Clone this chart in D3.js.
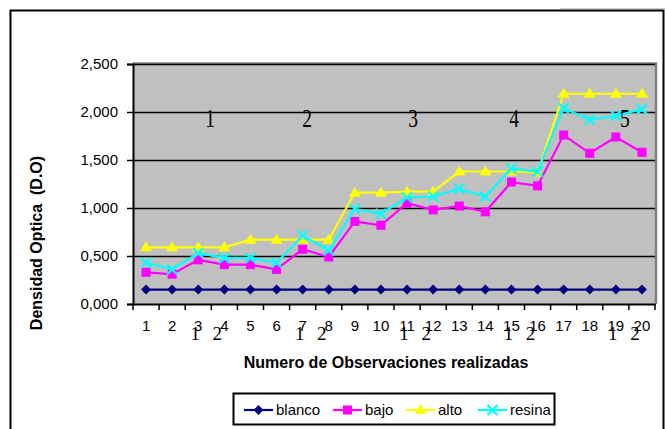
<!DOCTYPE html>
<html>
<head>
<meta charset="utf-8">
<script src="https://cdn.jsdelivr.net/npm/d3@7"></script>
<style>
  html, body { margin: 0; padding: 0; background: #fff; }
  svg { display: block; font-family: Arial, "Liberation Sans", sans-serif; }
</style>
</head>
<body>
<script>
// Observations 1..20
const observaciones = d3.range(1, 21).map(String);

// Optical density per series
const blanco = [0.15,0.15,0.15,0.15,0.15,0.15,0.15,0.15,0.15,0.15,0.15,0.15,0.15,0.15,0.15,0.15,0.15,0.15,0.15,0.15];
const bajo   = [0.33,0.31,0.46,0.41,0.41,0.36,0.57,0.49,0.86,0.82,1.05,0.98,1.02,0.96,1.27,1.23,1.76,1.57,1.74,1.58];
const alto   = [0.59,0.59,0.59,0.59,0.67,0.67,0.67,0.67,1.16,1.16,1.17,1.17,1.38,1.38,1.38,1.37,2.19,2.19,2.19,2.19];
const resina = [0.43,0.36,0.53,0.48,0.48,0.43,0.71,0.56,0.99,0.94,1.11,1.12,1.20,1.12,1.41,1.38,2.04,1.92,1.96,2.03];

const seriesNames  = ["blanco", "bajo", "alto", "resina"];
const seriesColors = ["#000080", "#FF00FF", "#FFFF00", "#00FFFF"];
const seriesShapes = ["diamond", "square", "triangle", "cross"];

const yTicks = [0, 0.5, 1.0, 1.5, 2.0, 2.5];

// Group numbers written over the plot, and the pair of sub-numbers
// written under the last two observations of each group
const groupLabels = ["1", "2", "3", "4", "5"];
const subLabels   = ["1", "2"];
const groupEnds   = ["4", "8", "12", "16", "20"];

// layout of the free text (in category widths from the plot's left edge)
const groupOffsets = [2.95, 6.67, 10.73, 14.6, 18.85];

const W = 665, H = 429;
const svg = d3.select("body").append("svg").attr("width", W).attr("height", H);

// outer chart frame (open at the bottom)
svg.append("line").attr("x1", 560).attr("x2", 665).attr("y1", 8.5).attr("y2", 8.5)
  .attr("stroke", "#c8c8c8").attr("stroke-width", 1);
svg.append("path")
  .attr("d", "M10.5,429 L10.5,10.5 L663.5,10.5 L663.5,429")
  .attr("fill", "none").attr("stroke", "#000").attr("stroke-width", 2);

const plot = { left: 133, right: 655, top: 64, bottom: 304 };

const x = d3.scaleBand().domain(observaciones).range([plot.left, plot.right]);
const y = d3.scaleLinear().domain([0, 2.5]).range([plot.bottom, plot.top]);
const cx = c => x(c) + x.bandwidth() / 2;

// plot background
svg.append("rect")
  .attr("x", plot.left).attr("y", plot.top)
  .attr("width", plot.right - plot.left).attr("height", plot.bottom - plot.top)
  .attr("fill", "#C0C0C0");
// grey right/top edge of the plot area
svg.append("path")
  .attr("d", `M${plot.left},${plot.top - 0.5} L${plot.right + 1},${plot.top - 0.5} L${plot.right + 1},${plot.bottom}`)
  .attr("fill", "none").attr("stroke", "#808080").attr("stroke-width", 2.5);

// horizontal gridlines
svg.append("g").selectAll("line").data(yTicks.slice(1)).join("line")
  .attr("x1", plot.left).attr("x2", plot.right)
  .attr("y1", d => Math.round(y(d)) + 0.5).attr("y2", d => Math.round(y(d)) + 0.5)
  .attr("stroke", "#000").attr("stroke-width", 1.5);

// y axis, decimal comma: 2,500
const yFmt = d => d3.format(".3f")(d).replace(".", ",");
const yAxis = svg.append("g")
  .attr("transform", `translate(${plot.left},0)`)
  .call(d3.axisLeft(y).tickValues(yTicks).tickSize(6).tickPadding(9).tickFormat(yFmt));
yAxis.attr("font-family", null).attr("font-size", null);
yAxis.select(".domain").attr("stroke", "#000").attr("stroke-width", 2);
yAxis.selectAll(".tick line").attr("stroke", "#000").attr("stroke-width", 1.5);
yAxis.selectAll(".tick text").attr("font-size", 15).attr("fill", "#000");

// x axis with ticks on category boundaries
const xAxis = svg.append("g")
  .attr("transform", `translate(0,${plot.bottom})`)
  .call(d3.axisBottom(x).tickSize(0).tickPadding(16));
xAxis.attr("font-family", null).attr("font-size", null);
xAxis.select(".domain").attr("stroke", "#000").attr("stroke-width", 2);
xAxis.selectAll(".tick text").attr("font-size", 15).attr("fill", "#000");
svg.append("g").selectAll("line")
  .data(d3.range(0, observaciones.length + 1)).join("line")
  .attr("x1", i => plot.left + i * x.step()).attr("x2", i => plot.left + i * x.step())
  .attr("y1", plot.bottom).attr("y2", plot.bottom + 6)
  .attr("stroke", "#000").attr("stroke-width", 1.5);

// series lines and markers
const values = [blanco, bajo, alto, resina];
const line = d3.line().x((d, i) => cx(observaciones[i])).y(d => y(d));

function marker(g, shape, color) {
  if (shape === "diamond") {
    g.append("path").attr("d", "M0,-5 L5,0 L0,5 L-5,0 Z").attr("fill", color);
  } else if (shape === "square") {
    g.append("rect").attr("x", -4.5).attr("y", -4.5).attr("width", 9).attr("height", 9).attr("fill", color);
  } else if (shape === "triangle") {
    g.append("path").attr("d", "M0,-6 L6,4 L-6,4 Z").attr("fill", color);
  } else {
    g.append("path").attr("d", "M-5,-5 L5,5 M5,-5 L-5,5").attr("stroke", color).attr("stroke-width", 2.2).attr("fill", "none");
  }
}

values.forEach((vals, s) => {
  svg.append("path").datum(vals)
    .attr("d", line).attr("fill", "none")
    .attr("stroke", seriesColors[s]).attr("stroke-width", 2.2);
  vals.forEach((v, i) => {
    const g = svg.append("g").attr("transform", `translate(${cx(observaciones[i])},${y(v)})`);
    marker(g, seriesShapes[s], seriesColors[s]);
  });
});

const serif = "'Liberation Serif', 'Times New Roman', 'DejaVu Serif', serif";

// group numbers over the plot
svg.append("g").selectAll("g").data(groupLabels).join("g")
  .attr("transform", (d, i) => `translate(${plot.left + groupOffsets[i] * x.step()},127) scale(0.75,1)`)
  .append("text")
  .attr("text-anchor", "middle")
  .style("font-family", serif)
  .attr("font-size", 26)
  .attr("fill", "#000")
  .text(d => d);

// sub-numbers under the last two observations of each group
groupEnds.forEach(end => {
  const second = String(+end);
  const first = String(+end - 1);
  [[first, subLabels[0], -3], [second, subLabels[1], -7]].forEach(([cat, t, dx]) => {
    svg.append("text")
      .attr("x", cx(cat) + dx)
      .attr("y", 340)
      .attr("text-anchor", "middle")
      .style("font-family", serif)
      .attr("font-size", 19)
      .attr("fill", "#000")
      .text(t);
  });
});

// axis titles
svg.append("text")
  .attr("x", (plot.left + plot.right) / 2 - 8).attr("y", 368)
  .attr("text-anchor", "middle").attr("font-weight", "bold").attr("font-size", 16)
  .attr("fill", "#000")
  .text("Numero de Observaciones realizadas");
svg.append("text")
  .attr("transform", "translate(42,243) rotate(-90)")
  .attr("text-anchor", "middle").attr("font-weight", "bold").attr("font-size", 16)
  .attr("fill", "#000")
  .attr("xml:space", "preserve")
  .style("white-space", "pre")
  .text("Densidad Optica  (D.O)");

// legend
const legend = svg.append("g");
legend.append("rect").attr("x", 233.5).attr("y", 393.5).attr("width", 321).attr("height", 31)
  .attr("fill", "#fff").attr("stroke", "#000").attr("stroke-width", 2);
const legendX = [244, 333, 406, 478];
seriesNames.forEach((name, s) => {
  const g = legend.append("g").attr("transform", `translate(${legendX[s]},410)`);
  g.append("line").attr("x1", 0).attr("x2", 29).attr("y1", 0).attr("y2", 0)
    .attr("stroke", seriesColors[s]).attr("stroke-width", 2.2);
  const m = g.append("g").attr("transform", "translate(14.5,0)");
  marker(m, seriesShapes[s], seriesColors[s]);
  g.append("text").attr("x", 32).attr("y", 0).attr("dy", "0.35em")
    .attr("font-size", 15).attr("fill", "#000").text(name);
});
</script>
</body>
</html>
